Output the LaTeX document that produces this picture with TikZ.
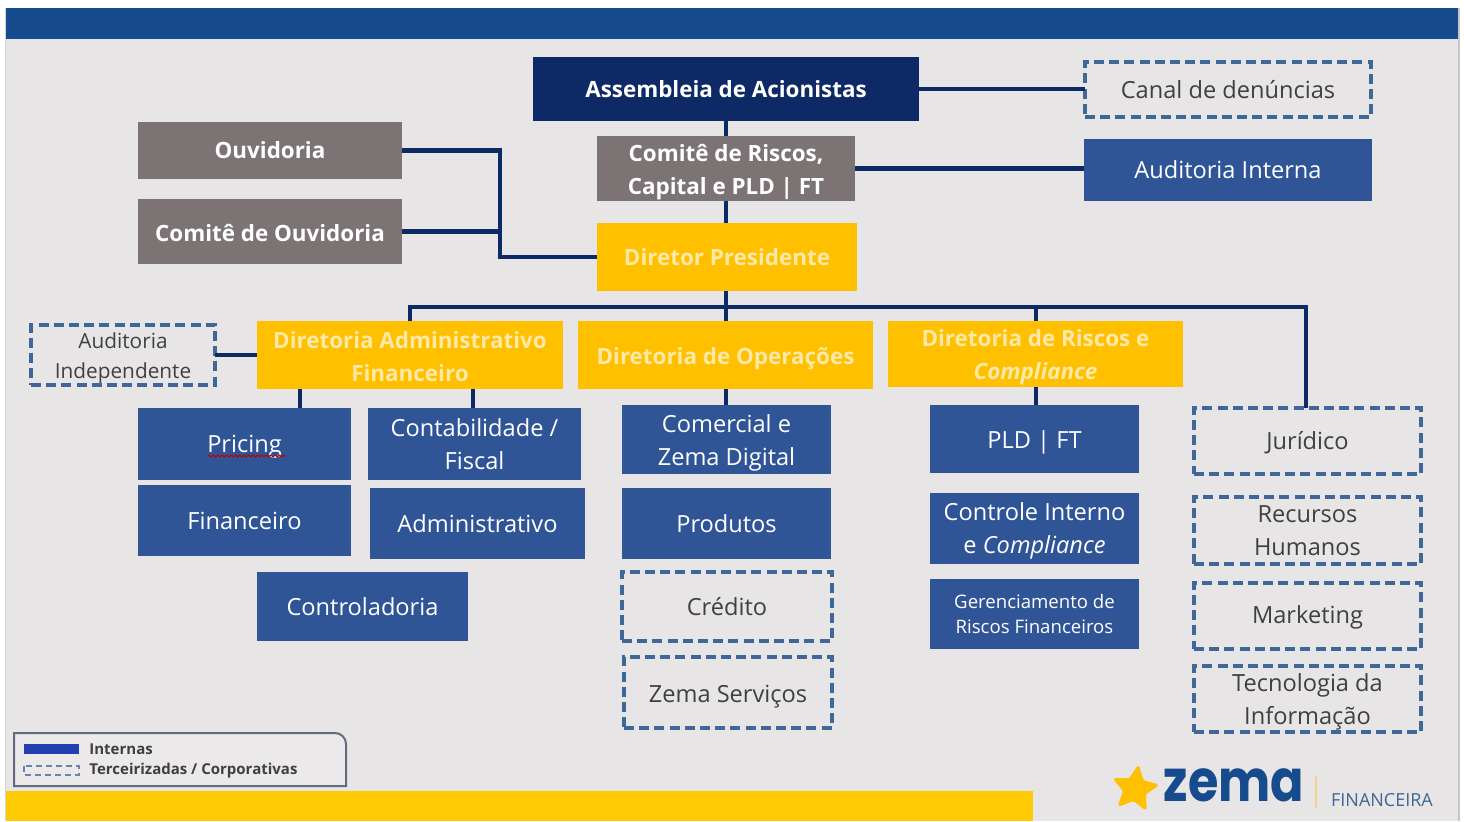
\documentclass[tikz,border=0pt]{standalone}
\usepackage{fontspec}
\setmainfont{Open Sans}
\newfontfamily\logofont{Poppins}
\usetikzlibrary{shapes.geometric,decorations.pathmorphing}
\definecolor{bgc}{HTML}{E7E5E5}
\definecolor{hdr}{HTML}{164B8E}
\definecolor{navy}{HTML}{0E2A66}
\definecolor{dark}{HTML}{0B2A66}
\definecolor{blu}{HTML}{2F5597}
\definecolor{gry}{HTML}{7C7474}
\definecolor{yel}{HTML}{FFC000}
\definecolor{band}{HTML}{FFCB05}
\definecolor{pale}{HTML}{FFE9A8}
\definecolor{dsh}{HTML}{3F6797}
\definecolor{txt}{HTML}{404040}
\tikzset{
 x=0.5pt,y=-0.5pt,
 base/.style={inner sep=0pt,outer sep=0pt,align=center,font=\fontsize{11.8}{16.5}\selectfont},
 solidblue/.style={base,fill=blu,text=white},
 graybox/.style={base,fill=gry,text=white,font=\fontsize{11.2}{16.5}\selectfont\bfseries},
 yellowbox/.style={base,fill=yel,text=pale,font=\fontsize{11.2}{16.5}\selectfont\bfseries},
 navybox/.style={base,fill=navy,text=white,font=\fontsize{11.2}{16.5}\selectfont\bfseries},
 dashbox/.style={base,draw=dsh,line width=2.1pt,dash pattern=on 5pt off 2.6pt,text=txt},
 link/.style={draw=dark,line width=2.1pt},
}
\newcommand{\bx}[7]{\node[#6,minimum width={(#4-#2)*0.5pt},minimum height={(#5-#3)*0.5pt}] (#1) at ({(#2+#4)/2},{(#3+#5)/2}) {#7};}
\newcommand{\up}[1]{\rule{0pt}{#1pt}}
\begin{document}
\begin{tikzpicture}
\useasboundingbox (0,0) rectangle (1464,821);
\fill[white] (0,0) rectangle (1464,821);
\fill[bgc] (6,8) rectangle (1458,821);
\fill[gray!45] (1458,8) rectangle (1460,821);
\fill[gray!35] (5,8) rectangle (6,821);
\fill[hdr] (6,8) rectangle (1458,39);
\fill[band] (6,791) rectangle (1033,821);
% connector junctions
\coordinate (busL) at (410,307);
\coordinate (busC) at (726,307);
\coordinate (busR) at (1306,307);
\coordinate (busD) at (1036,307);
\coordinate (trunk) at (500,200);
% boxes
\bx{assem}{533}{57}{919}{121}{navybox}{Assembleia de Acionistas}
\bx{canal}{1085}{62}{1371}{117}{dashbox}{Canal de denúncias}
\bx{ouv}{138}{122}{402}{179}{graybox}{Ouvidoria}
\bx{comr}{597}{136}{855}{201}{graybox}{\up{12}Comitê de Riscos,\\Capital e PLD | FT}
\bx{audi}{1084}{139}{1372}{201}{solidblue}{Auditoria Interna}
\bx{cov}{138}{199}{402}{264}{graybox}{\up{10}Comitê de Ouvidoria}
\bx{pres}{597}{223}{857}{291}{yellowbox}{Diretor Presidente}
\bx{audx}{31}{325}{215}{385}{dashbox,font=\fontsize{10.4}{15}\selectfont}{\up{11}Auditoria\\Independente}
\bx{dadm}{257}{321}{563}{389}{yellowbox}{\up{10}Diretoria Administrativo\\Financeiro}
\bx{dop}{578}{321}{873}{389}{yellowbox}{\up{12}Diretoria de Operações}
\bx{dris}{888}{321}{1183}{387}{yellowbox}{\up{12}Diretoria de Riscos e\\\textit{Compliance}}
\bx{pric}{138}{408}{351}{480}{solidblue}{\up{11}Pricing}
\bx{cont}{368}{408}{581}{480}{solidblue}{Contabilidade /\\Fiscal}
\bx{come}{622}{405}{831}{474}{solidblue}{\up{12}Comercial e\\Zema Digital}
\bx{pld}{930}{405}{1139}{473}{solidblue}{\up{12}PLD | FT}
\bx{jur}{1194}{408}{1421}{474}{dashbox}{\up{11}Jurídico}
\bx{fin}{138}{485}{351}{556}{solidblue}{Financeiro}
\bx{adm}{370}{488}{585}{559}{solidblue}{Administrativo}
\bx{prod}{622}{488}{831}{559}{solidblue}{Produtos}
\bx{ctrl}{930}{493}{1139}{564}{solidblue}{\up{11}Controle Interno\\e \textit{Compliance}}
\bx{rh}{1194}{497}{1421}{564}{dashbox}{Recursos\\Humanos}
\bx{ctrd}{257}{572}{468}{641}{solidblue}{Controladoria}
\bx{cred}{622}{572}{832}{641}{dashbox}{Crédito}
\bx{ger}{930}{579}{1139}{649}{solidblue,font=\fontsize{9.3}{12.6}\selectfont}{Gerenciamento de\\Riscos Financeiros}
\bx{mkt}{1194}{583}{1421}{649}{dashbox}{\up{10}Marketing}
\bx{serv}{624}{657}{832}{728}{dashbox}{\up{13}Zema Serviços}
\bx{ti}{1194}{666}{1421}{732}{dashbox}{\up{12}Tecnologia da\\Informação}
% Pricing spell-check underline
\draw[red!75!black,line width=0.5pt,decorate,decoration={zigzag,segment length=2.2pt,amplitude=0.5pt}] (208,456) -- (285,456);
% connectors
\draw[link] (assem.east) -- (canal.west|-assem.east);
\draw[link] (assem.south) -- (comr.north);
\draw[link] (comr.south) -- (pres.north-|comr.south);
\draw[link] (comr.east) -- (audi.west|-comr.east);
\draw[link] (ouv.east) -- (trunk|-ouv.east) -- (trunk|-pres.west) -- (pres.west);
\draw[link] (cov.east) -- (trunk|-cov.east);
\draw[link] (busC|-pres.south) -- (busC|-dop.north);
\draw[link] (dadm.north) -- (busL) -- (busR) -- (jur.north-|busR);
\draw[link] (busD) -- (busD|-dris.north);
\draw[link] (audx.east) -- (audx.east-|dadm.west);
\coordinate (p1) at (300,389);
\draw[link] (p1) -- (p1|-pric.north);
\coordinate (p2) at (473,389);
\draw[link] (p2) -- (p2|-cont.north);
\draw[link] (busC|-dop.south) -- (busC|-come.north);
\draw[link] (busD|-dris.south) -- (busD|-pld.north);
% legend
\draw[draw=gry!70!blu,line width=1pt,fill=bgc!85!white] (14,786) -- (14,733) -- (335,733) to[out=0,in=90] (346,744) -- (346,786) -- cycle;
\fill[blu!75!blue] (24,744) rectangle (79,754);
\draw[dsh!80,line width=0.7pt,dash pattern=on 3pt off 2pt] (24,766) rectangle (79,775);
\node[anchor=west,inner sep=0pt,text=txt,font=\fontsize{7.5}{9}\selectfont\bfseries] (li) at (89,749) {Internas};
\node[anchor=west,inner sep=0pt,text=txt,font=\fontsize{7.5}{9}\selectfont\bfseries] (lt) at (89,771) {Terceirizadas / Corporativas};
% logo
\node[star,star points=5,star point ratio=2.1,fill=yel,draw=yel,rounded corners=1pt,minimum size=23pt,inner sep=0pt,line width=1pt,rotate=-8] (st) at (1135,789) {};
\node[anchor=center,inner sep=0pt,text=hdr,font=\logofont\fontsize{29}{30}\selectfont\bfseries] (zm) at (1234,785) {\scalebox{0.85}[1]{zema}};
\draw[yel!40!bgc,line width=0.6pt] (1316,776) -- (1316,808);
\node[anchor=center,inner sep=0pt,text=dsh,font=\fontsize{9}{10}\selectfont] (fi) at (1382,800) {FINANCEIRA};
\end{tikzpicture}
\end{document}
